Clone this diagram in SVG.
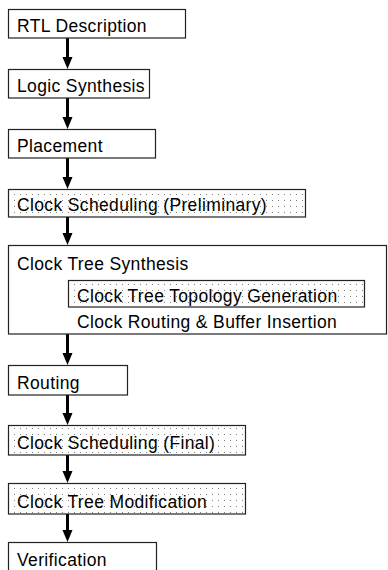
<svg xmlns="http://www.w3.org/2000/svg" width="388" height="570" viewBox="0 0 388 570">
<defs>
<pattern id="dots" width="6" height="6" patternUnits="userSpaceOnUse">
<rect width="6" height="6" fill="#fdfdfd"/>
<rect x="2" y="2" width="1" height="1" fill="#808080"/>
</pattern>
<style>
.box{fill:#fff;stroke:#222;stroke-width:1.2}
.dot{fill:url(#dots);stroke:#222;stroke-width:1.2}
text{font-family:"Liberation Sans",Arial,sans-serif;font-size:17.5px;letter-spacing:0.36px;fill:#000}
.conn{stroke:#000;stroke-width:3;fill:none}
</style>
</defs>
<g id="connectors">
<line class="conn" x1="67.5" y1="38" x2="67.5" y2="58"/><path d="M62.5,57 L72.5,57 L67.5,69 Z"/>
<line class="conn" x1="67.5" y1="98" x2="67.5" y2="118"/><path d="M62.5,117 L72.5,117 L67.5,129 Z"/>
<line class="conn" x1="67.5" y1="158" x2="67.5" y2="178"/><path d="M62.5,177 L72.5,177 L67.5,189 Z"/>
<line class="conn" x1="67.5" y1="217" x2="67.5" y2="234"/><path d="M62.5,233 L72.5,233 L67.5,245 Z"/>
<line class="conn" x1="67.5" y1="334" x2="67.5" y2="354"/><path d="M62.5,353 L72.5,353 L67.5,365 Z"/>
<line class="conn" x1="67.5" y1="395" x2="67.5" y2="414"/><path d="M62.5,413 L72.5,413 L67.5,425 Z"/>
<line class="conn" x1="67.5" y1="455" x2="67.5" y2="472"/><path d="M62.5,471 L72.5,471 L67.5,483 Z"/>
<line class="conn" x1="67.5" y1="514" x2="67.5" y2="531"/><path d="M62.5,530 L72.5,530 L67.5,542 Z"/>
</g>
<g id="rtl"><rect class="box" x="8.5" y="9.5" width="177" height="28.5"/><text x="17" y="32">RTL Description</text></g>
<g id="logic"><rect class="box" x="8.5" y="69.5" width="141" height="28.5"/><text x="17" y="92">Logic Synthesis</text></g>
<g id="placement"><rect class="box" x="8.5" y="129.5" width="147" height="28.5"/><text x="17" y="152">Placement</text></g>
<g id="sched-pre"><rect class="dot" x="8.5" y="189.5" width="297" height="27.5"/><text x="17" y="211">Clock Scheduling (Preliminary)</text></g>
<g id="cts"><rect class="box" x="8.5" y="245.5" width="378" height="88.5"/><text x="17" y="270">Clock Tree Synthesis</text>
<g id="topology"><rect class="dot" x="68.5" y="280.5" width="296" height="26.5"/><text x="77" y="302">Clock Tree Topology Generation</text></g>
<text x="77" y="328">Clock Routing &amp; Buffer Insertion</text></g>
<g id="routing"><rect class="box" x="8.5" y="365.5" width="119" height="29.5"/><text x="17" y="389">Routing</text></g>
<g id="sched-final"><rect class="dot" x="8.5" y="425.5" width="237" height="29.5"/><text x="17" y="449">Clock Scheduling (Final)</text></g>
<g id="modification"><rect class="dot" x="8.5" y="483.5" width="237" height="30.5"/><text x="17" y="508">Clock Tree Modification</text></g>
<g id="verification"><rect class="box" x="8.5" y="542.5" width="148" height="30"/><text x="17" y="566">Verification</text></g>
</svg>
